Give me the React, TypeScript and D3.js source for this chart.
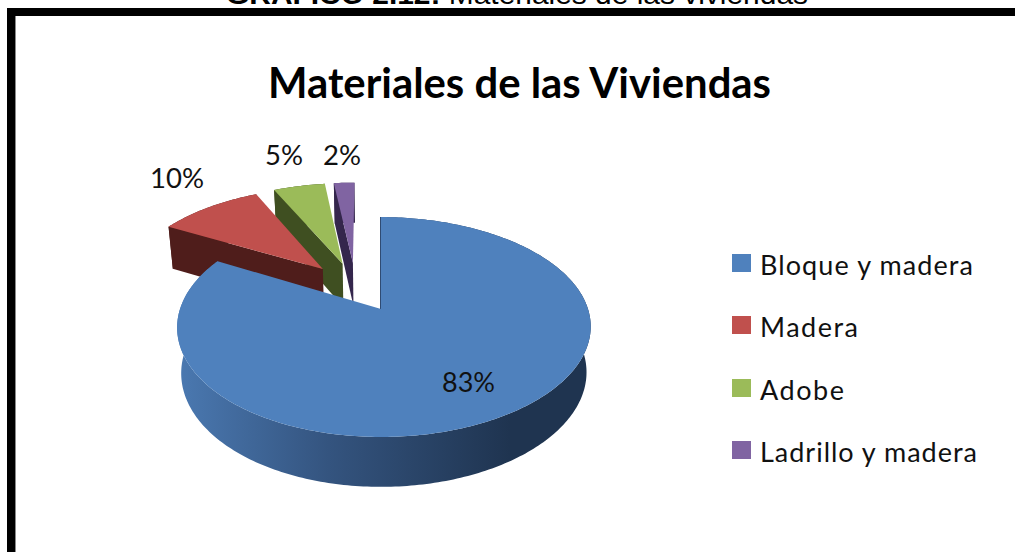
import React from "react";
import * as d3 from "d3";

const categories = ["Bloque y madera", "Madera", "Adobe", "Ladrillo y madera"];
const percentages = [83, 10, 5, 2];
const chartTitle = "Materiales de las Viviendas";
const captionBold = "GRÁFICO 2.12:";
const captionRest = " Materiales de las viviendas";

const topColors = ["#4f81bd", "#c0504d", "#9bbb59", "#8064a2"];
const wallColors = ["#2f4b73", "#4f1d1b", "#3f4f21", "#34264c"];

const W = 1015;
const H = 552;
const apex: [number, number] = [381, 309];
const RX = 204;
const RY = 107;
const PERSP = 0.164;
const EXPLODE = 0.25;
const WALL_DZ = 45;
const WALL_SX = 0.98;
const WALL_SY = 1.038;
const FONT = "Lato, Carlito, 'Open Sans', sans-serif";

const labelPos: [number, number, number][] = [
  [442, 392, 53],
  [150, 188, 54],
  [265, 165, 38],
  [323, 165, 38],
];

const legendTextLen = [213, 98, 84, 217];
const legendBase = [275, 337, 400, 462];

const pieGen = d3.pie<number>().sort(null).startAngle(0).endAngle(2 * Math.PI);
const arcs = pieGen(percentages);

const unit = (a: number): [number, number] => [Math.sin(a), -Math.cos(a)];

const project = (u: number, v: number): [number, number] => {
  const w = 1 - PERSP * v;
  return [apex[0] + (RX * u) / w, apex[1] + (RY * v) / w];
};

const toWall = (p: [number, number]): [number, number] => [
  apex[0] + (p[0] - apex[0]) * WALL_SX,
  apex[1] + (p[1] - apex[1]) * WALL_SY + WALL_DZ,
];

const line = d3.line<[number, number]>().curve(d3.curveLinear);

const slices = arcs.map((arc, i) => {
  const mid = (arc.startAngle + arc.endAngle) / 2;
  const blueMid = (arcs[0].startAngle + arcs[0].endAngle) / 2;
  const [mu, mv] = unit(mid);
  const [bu, bv] = unit(blueMid);
  const ou = EXPLODE * (mu - bu);
  const ov = EXPLODE * (mv - bv);
  const steps = Math.max(4, Math.ceil((arc.endAngle - arc.startAngle) * 60));
  const angles = d3.range(steps + 1).map((k) => arc.startAngle + ((arc.endAngle - arc.startAngle) * k) / steps);
  const outer = angles.map((a) => {
    const [u, v] = unit(a);
    const p = project(u + ou, v + ov);
    // slight lens correction of the big slice, small left shift of the others
    return [p[0] + (i === 0 ? 3 * u * u : -3), p[1]] as [number, number];
  });
  const c = project(ou, ov);
  const centre: [number, number] = [c[0] + (i === 0 ? 0 : -1), c[1]];
  const top = line([centre, ...outer])! + "Z";
  const cutWall = line([outer[0], centre, toWall(centre), toWall(outer[0])])! + "Z";
  const arcWall = line([...outer, ...outer.map(toWall).reverse()])! + "Z";
  return { top, cutWall, arcWall, i };
});

export default function App() {
  const order = [3, 2, 1, 0];
  return (
    <svg
      width={W}
      height={H}
      viewBox={`0 0 ${W} ${H}`}
      style={{ position: "fixed", left: 0, top: 0, background: "#fff" }}
    >
      <defs>
        <linearGradient id="blueWall" gradientUnits="userSpaceOnUse" x1={180} x2={510} y1={0} y2={0}>
          <stop offset="0" stopColor="#4a78b0" />
          <stop offset="0.45" stopColor="#34547f" />
          <stop offset="1" stopColor="#1f3450" />
        </linearGradient>
      </defs>

      <text x={226} y={4} fontFamily="'Liberation Sans', Arial, sans-serif" fontSize={27} fill="#000" textLength={582} lengthAdjust="spacingAndGlyphs">
        <tspan fontWeight="bold">{captionBold}</tspan>
        <tspan>{captionRest}</tspan>
      </text>

      <rect x={7} y={8} width={W - 7} height={8} fill="#000" />
      <rect x={7} y={8} width={8} height={H - 8} fill="#000" />
      <rect x={15} y={16} width={1} height={H - 16} fill="#8a8a8a" />

      <text x={268} y={98} fontFamily={FONT} fontWeight="bold" fontSize={42} fill="#000" textLength={503} lengthAdjust="spacingAndGlyphs">
        {chartTitle}
      </text>

      {order.map((i) => {
        const s = slices[i];
        const wallFill = i === 0 ? "url(#blueWall)" : wallColors[i];
        return (
          <g key={categories[i]}>
            <path d={s.arcWall} fill={wallFill} />
            <path d={s.cutWall} fill={wallColors[i]} stroke={i === 0 ? wallColors[0] : "none"} strokeWidth={2} />
            <path d={s.top} fill={topColors[i]} />
          </g>
        );
      })}

      {percentages.map((p, i) => (
        <text
          key={i}
          x={labelPos[i][0]}
          y={labelPos[i][1]}
          fontFamily={FONT}
          fontSize={27}
          fill="#111"
          textLength={labelPos[i][2]}
          lengthAdjust="spacingAndGlyphs"
        >
          {d3.format(".0f")(p)}%
        </text>
      ))}

      {categories.map((c, i) => (
        <g key={c}>
          <rect x={732} y={legendBase[i] - 21} width={19} height={18} fill={topColors[i]} />
          <text
            x={760}
            y={legendBase[i]}
            fontFamily={FONT}
            fontSize={27}
            fill="#111"
            textLength={legendTextLen[i]}
            lengthAdjust="spacing"
          >
            {c}
          </text>
        </g>
      ))}
    </svg>
  );
}
